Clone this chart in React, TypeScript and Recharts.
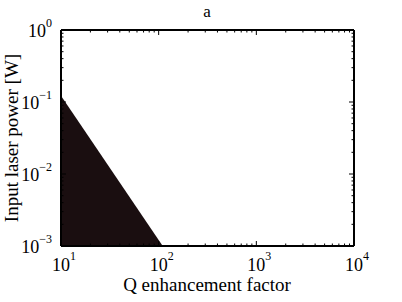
import {Area, ComposedChart, XAxis, YAxis, Text} from 'recharts';

// region boundary: P ~ Q^-2, read at the two ends of the filled patch
const QVALUES = [10, 110];
const PLOW = [0.001, 0.001];
const PHIGH = [0.122, 0.001];

const X_DECADES = [10, 100, 1000, 10000];
const Y_DECADES = [0.001, 0.01, 0.1, 1];
const X_EXP = ['1', '2', '3', '4'];
const Y_EXP = ['\u22123', '\u22122', '\u22121', '0'];

const data = QVALUES.map((q, i) => ({q, p: [PLOW[i], PHIGH[i]]}));

// decade ticks plus the 2..9 minor ticks in between
const minorTicks = (decades: number[]) => {
  const out: number[] = [];
  decades.forEach((d, i) => {
    out.push(d);
    if (i < decades.length - 1) {
      for (let k = 2; k < 10; k++) out.push(d * k);
    }
  });
  return out;
};

const xTicks = minorTicks(X_DECADES);
const yTicks = minorTicks(Y_DECADES);

const FONT = '"Liberation Serif", "DejaVu Serif", serif';

const decadeIndex = (v: number, decades: number[]) =>
  decades.findIndex((d) => Math.abs(d - v) / d < 1e-6);

// tick mark drawn inward, with a 10^n label for decades on the label sides
const makeTick = (side: 'bottom' | 'top' | 'left' | 'right') => (props: any) => {
  const {x, y, payload} = props;
  const v = payload.value;
  const idx = decadeIndex(v, side === 'bottom' || side === 'top' ? X_DECADES : Y_DECADES);
  const major = idx >= 0;
  const len = major ? 5 : 2.5;
  let line;
  if (side === 'bottom') line = <line x1={x} y1={y} x2={x} y2={y - len} stroke="#000" />;
  if (side === 'top') line = <line x1={x} y1={y} x2={x} y2={y + len} stroke="#000" />;
  if (side === 'left') line = <line x1={x} y1={y} x2={x + len} y2={y} stroke="#000" />;
  if (side === 'right') line = <line x1={x} y1={y} x2={x - len} y2={y} stroke="#000" />;

  let label = null;
  if (major && side === 'bottom') {
    // "10" centred on the tick, exponent hanging to the right
    label = (
      <text x={x - 9} y={y + 25} textAnchor="start" fontFamily={FONT} fontSize={18} fill="#000">
        <tspan>10</tspan>
        <tspan dy={-11} fontSize={12}>{X_EXP[idx]}</tspan>
      </text>
    );
  }
  if (major && side === 'left') {
    label = (
      <text x={x - 9} y={y + 7} textAnchor="end" fontFamily={FONT} fontSize={18} fill="#000">
        <tspan>10</tspan>
        <tspan dy={-10} fontSize={12}>{Y_EXP[idx]}</tspan>
      </text>
    );
  }
  return (
    <g>
      {line}
      {label}
    </g>
  );
};

const axisCommon = {
  type: 'number' as const,
  scale: 'log' as const,
  interval: 0 as const,
  tickSize: 0,
  tickMargin: 0,
  tickLine: false,
  axisLine: {stroke: '#000', strokeWidth: 2},
  allowDataOverflow: true,
};

export default function App() {
  return (
    <div style={{position: 'absolute', left: 0, top: 0, width: 402, height: 302, background: '#fff'}}>
      <ComposedChart
        width={402}
        height={302}
        data={data}
        margin={{top: 29, right: 47, bottom: 16, left: 11}}
      >
        <XAxis xAxisId="b" dataKey="q" domain={[10, 10000]} ticks={xTicks} height={40} tick={makeTick('bottom')} {...axisCommon} />
        <XAxis xAxisId="t" orientation="top" dataKey="q" domain={[10, 10000]} ticks={xTicks} height={1} tick={makeTick('top')} {...axisCommon} />
        <YAxis yAxisId="l" domain={[0.001, 1]} ticks={yTicks} width={50} tick={makeTick('left')} {...axisCommon} />
        <YAxis yAxisId="r" orientation="right" domain={[0.001, 1]} ticks={yTicks} width={1} tick={makeTick('right')} {...axisCommon} />
        <Area
          xAxisId="b"
          yAxisId="l"
          type="linear"
          dataKey="p"
          stroke="none"
          fill="#1a0e10"
          fillOpacity={1}
          isAnimationActive={false}
        />
        <text x={207} y={17} textAnchor="middle" fontFamily={FONT} fontSize={17} fill="#000">
          a
        </text>
        <text x={207} y={291} textAnchor="middle" fontFamily={FONT} fontSize={19} fill="#000">
          Q enhancement factor
        </text>
        <Text
          x={18}
          y={138}
          angle={-90}
          textAnchor="middle"
          verticalAnchor="end"
          fontFamily={FONT}
          fontSize={19}
          fill="#000"
        >
          Input laser power [W]
        </Text>
      </ComposedChart>
    </div>
  );
}
